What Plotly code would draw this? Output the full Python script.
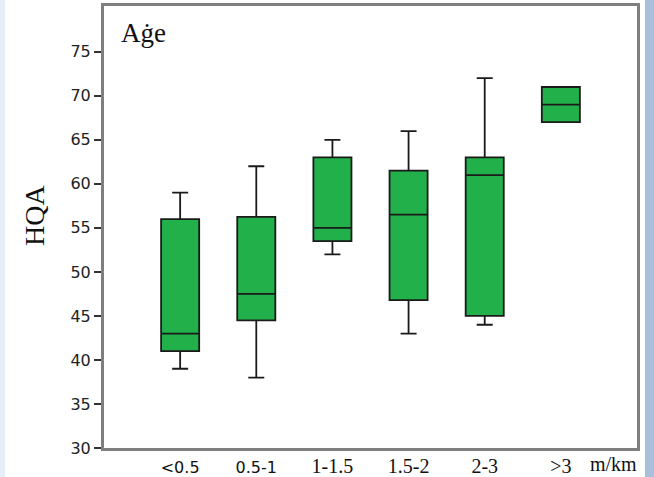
import plotly.graph_objects as go

categories = ["<0.5", "0.5-1", "1-1.5", "1.5-2", "2-3", ">3"]
lower = [39, 38, 52, 43, 44, 67]
q1 = [41, 44.5, 53.5, 46.8, 45, 67]
median = [43, 47.5, 55, 56.5, 61, 69]
q3 = [56, 56.25, 63, 61.5, 63, 71]
upper = [59, 62, 65, 66, 72, 71]
y_ticks = [30, 35, 40, 45, 50, 55, 60, 65, 70, 75]

serif = "Liberation Serif"
sans = "DejaVu Sans"

# label styling: first two appear sans, rest serif in the reference
tick_text = [
    f"<span style='font-family:{sans};font-size:16px'>{c}</span>" if i < 2
    else f"<span style='font-family:{serif};font-size:20px'>{c}</span>"
    for i, c in enumerate(categories)
]
tick_text = [t.replace("<0.5", "&lt;0.5").replace(">3", "&gt;3") for t in tick_text]

fig = go.Figure()
fig.add_trace(go.Box(
    x=categories, q1=q1, median=median, q3=q3,
    lowerfence=lower, upperfence=upper,
    fillcolor="#22b04b",
    line=dict(color="#1a1a1a", width=1.8),
    width=0.5, whiskerwidth=0.42,
    boxpoints=False, showlegend=False, hoverinfo="skip",
))

fig.update_layout(
    width=654, height=477,
    margin=dict(l=104, r=17, t=6, b=29, autoexpand=False),
    paper_bgcolor="white",
    plot_bgcolor="white",
    font=dict(family=sans, color="#111111", size=16),
    xaxis=dict(
        type="category", categoryorder="array", categoryarray=categories,
        tickvals=categories, ticktext=tick_text, automargin=False,
        range=[-1, 6], showgrid=False, zeroline=False,
        showline=True, linecolor="#7f7f7f", linewidth=3, mirror=True,
        ticks="", ticklen=2, tickfont=dict(family=serif, size=18),
    ),
    yaxis=dict(
        range=[30, 80.2], tickvals=y_ticks, showgrid=False, zeroline=False,
        automargin=False,
        showline=True, linecolor="#7f7f7f", linewidth=3, mirror=True,
        ticks="outside", ticklen=7, tickwidth=2, tickcolor="#333333",
        tickfont=dict(family=sans, size=16, color="#222222"),
    ),
    shapes=[
        dict(type="rect", xref="paper", yref="paper",
             x0=-104/533, x1=-99/533, y0=-0.2, y1=1.1,
             fillcolor="#e8eef8", line=dict(width=0), layer="below"),
        dict(type="rect", xref="paper", yref="paper",
             x0=(645-104)/533, x1=(660-104)/533, y0=-0.2, y1=1.1,
             fillcolor="#a9bfdc", line=dict(width=0), layer="below"),
    ],
    annotations=[
        dict(text="Aġe", xref="paper", yref="paper", x=(119-104)/533,
             y=1-(33-6)/442, xanchor="left", yanchor="middle", showarrow=False,
             font=dict(family=serif, size=27, color="#111111")),
        dict(text="HQA", xref="paper", yref="paper", x=(34-104)/533,
             y=1-(216-6)/442, xanchor="center", yanchor="middle",
             textangle=-90, showarrow=False,
             font=dict(family=serif, size=28, color="#111111")),
        dict(text="m/km", xref="paper", yref="paper", x=(613-104)/533, y=-0.006,
             xanchor="center", yanchor="top", showarrow=False,
             font=dict(family=serif, size=20, color="#111111")),
    ],
)

fig.write_html(
    "out.html",
    config={"displayModeBar": False},
    post_script="document.body.style.margin='0';document.body.style.padding='0';",
)
